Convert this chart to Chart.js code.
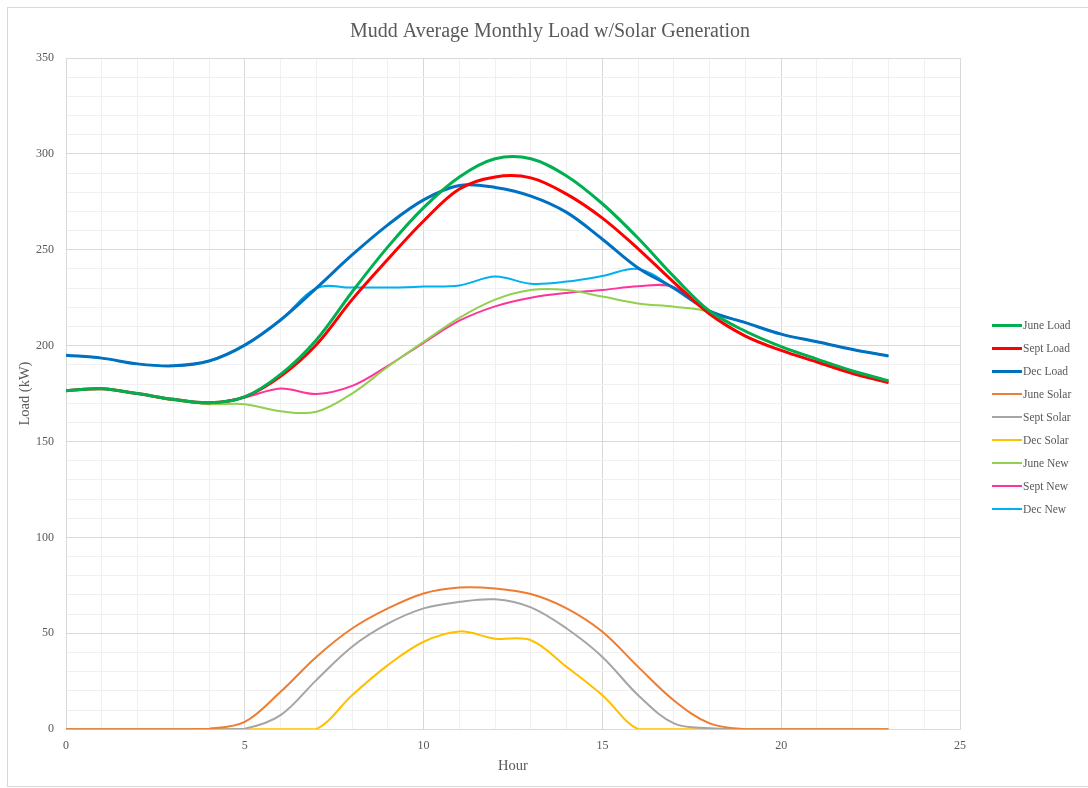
<!DOCTYPE html>
<html>
<head>
<meta charset="utf-8">
<script src="https://cdn.jsdelivr.net/npm/chart.js@4.4.1/dist/chart.umd.min.js"></script>
<style>
  html, body { margin: 0; padding: 0; background: #fff; }
  #wrap { position: relative; width: 1088px; height: 788px; }
  #frame { position: absolute; left: 7px; top: 7px; right: -2px; bottom: 1px;
           border: 1px solid #d9d9d9; box-sizing: border-box; }
  #chart { position: absolute; left: 0; top: 0; }
  #legend { position: absolute; left: 992px; top: 314px;
            font-family: "Liberation Serif", "Times New Roman", serif;
            font-size: 11.5px; color: #595959; }
  .item { height: 22.9px; display: flex; align-items: center; white-space: nowrap; }
  .swatch { width: 30px; margin-right: 1px; }
</style>
</head>
<body>
<div id="wrap">
  <div id="frame"></div>
  <canvas id="chart" width="1088" height="788"></canvas>
  <div id="legend"></div>
</div>
<script>
const hours = [0, 1, 2, 3, 4, 5, 6, 7, 8, 9, 10, 11, 12, 13, 14, 15, 16, 17, 18, 19, 20, 21, 22, 23];

const juneLoad  = [176.5, 177.5, 175, 172, 170.2, 173.3, 185, 203, 228, 251.5, 272, 288, 297.5, 297.5, 288.5, 274, 256, 236, 218, 207.5, 199.5, 193, 186.8, 181.7];
const septLoad  = [176.5, 177.5, 175, 172, 170.2, 173.3, 184, 200.5, 224, 245, 265, 281.7, 288, 287.5, 279, 266.5, 250.5, 233, 216.5, 205, 197.5, 191.5, 185.5, 180.7];
const decLoad   = [195, 193.5, 190.5, 189.5, 192, 200.3, 213.4, 230, 247.3, 263, 276, 283.5, 282.5, 278, 269.5, 255.5, 240.5, 230, 218, 212, 206, 202, 198, 194.6];
const juneSolar = [0, 0, 0, 0, 0.3, 3.8, 19.5, 37.7, 52.5, 63, 70.8, 73.9, 73.4, 70.5, 63, 50.8, 32.5, 15, 3, 0, 0, 0, 0, 0];
const septSolar = [0, 0, 0, 0, 0, 0.3, 7.3, 25.6, 43, 55, 63, 66.4, 67.7, 63.5, 52.5, 37.7, 17.7, 3, 0.5, 0, 0, 0, 0, 0];
const decSolar  = [0, 0, 0, 0, 0, 0, 0, 0, 17.7, 33.4, 45.6, 51, 47.2, 46.4, 32.5, 17.7, 0, 0, 0, 0, 0, 0, 0, 0];
const juneNew   = [176.5, 177.5, 175, 171.5, 169.5, 169.5, 165.8, 165.5, 175, 189, 202, 214.5, 224, 229, 229, 225.6, 222, 220.3, 217.5, 207.5, 199.5, 193, 186.8, 181.7];
const septNew   = [176.5, 177.5, 175, 172, 170.2, 173, 177.7, 174.8, 179, 189.5, 201.5, 213, 220.5, 225, 227.5, 229, 231, 230.5, 216.5, 205, 197.5, 191.5, 185.5, 180.7];
const decNew    = [195, 193.5, 190.5, 189.5, 192, 200.3, 213.4, 230, 230.3, 230.3, 230.8, 231.4, 236, 232.3, 233.4, 236.3, 240, 230, 218, 212, 206, 202, 198, 194.6];

const seriesNames  = ['June Load', 'Sept Load', 'Dec Load', 'June Solar', 'Sept Solar', 'Dec Solar', 'June New', 'Sept New', 'Dec New'];
const seriesData   = [juneLoad, septLoad, decLoad, juneSolar, septSolar, decSolar, juneNew, septNew, decNew];
const seriesColors = ['#00b050', '#ff0000', '#0070c0', '#ed7d31', '#a5a5a5', '#ffc000', '#92d050', '#ff3399', '#00b0f0'];
const seriesWidths = [3, 3, 3, 2, 2, 2, 2, 2, 2];

const textColor = '#595959';
const serif = '"Liberation Serif", "Times New Roman", serif';

const datasets = seriesNames.map((name, i) => ({
    label: name,
    data: hours.map((h, j) => ({ x: h, y: seriesData[i][j] })),
    borderColor: seriesColors[i],
    backgroundColor: seriesColors[i],
    borderWidth: seriesWidths[i],
    pointRadius: 0,
    tension: 0.35,
    fill: false
}));

// grid: major lines every 5 h / 50 kW, faint minor lines in between
function gridColor(step) {
    return ctx => (ctx.tick && ctx.tick.value % step === 0) ? '#d9d9d9' : '#f0f0f0';
}

new Chart(document.getElementById('chart'), {
    type: 'line',
    data: { datasets: datasets },
    options: {
        responsive: false,
        animation: false,
        layout: { padding: { left: 12, right: 0, top: 12, bottom: 7 } },
        plugins: {
            legend: { display: false },
            tooltip: { enabled: false },
            title: {
                display: true,
                text: 'Mudd Average Monthly Load w/Solar Generation',
                color: textColor,
                font: { family: serif, size: 20, weight: 'normal' },
                padding: { top: 8, bottom: 14 }
            }
        },
        scales: {
            x: {
                type: 'linear',
                min: 0,
                max: 25,
                ticks: {
                    stepSize: 1,
                    autoSkip: false,
                    maxRotation: 0,
                    color: textColor,
                    font: { family: serif, size: 12 },
                    padding: 9,
                    callback: v => v % 5 === 0 ? v : ''
                },
                grid: { color: gridColor(5), drawTicks: false, lineWidth: 1 },
                border: { color: '#d9d9d9' },
                title: {
                    display: true,
                    text: 'Hour',
                    color: textColor,
                    font: { family: serif, size: 14.5 },
                    padding: { top: -4, bottom: 6 }
                }
            },
            y: {
                min: 0,
                max: 350,
                ticks: {
                    stepSize: 10,
                    autoSkip: false,
                    color: textColor,
                    font: { family: serif, size: 12 },
                    padding: 12,
                    callback: v => v % 50 === 0 ? v : ''
                },
                grid: { color: gridColor(50), drawTicks: false, lineWidth: 1 },
                border: { color: '#d9d9d9' },
                title: {
                    display: true,
                    text: 'Load (kW)',
                    color: textColor,
                    font: { family: serif, size: 14.5 },
                    padding: { top: 4, bottom: 4 }
                },
                afterFit: scale => { scale.width = 54; }
            },
            // empty right-hand axis that reserves room for the legend
            yRoom: {
                position: 'right',
                ticks: { display: false },
                grid: { display: false, drawOnChartArea: false },
                border: { display: false },
                afterFit: scale => { scale.width = 128; }
            }
        }
    }
});

// legend in the same order as the series
const legend = document.getElementById('legend');
seriesNames.forEach((name, i) => {
    const row = document.createElement('div');
    row.className = 'item';
    const sw = document.createElement('div');
    sw.className = 'swatch';
    sw.style.height = seriesWidths[i] + 'px';
    sw.style.background = seriesColors[i];
    const label = document.createElement('span');
    label.textContent = name;
    row.appendChild(sw);
    row.appendChild(label);
    legend.appendChild(row);
});
</script>
</body>
</html>
